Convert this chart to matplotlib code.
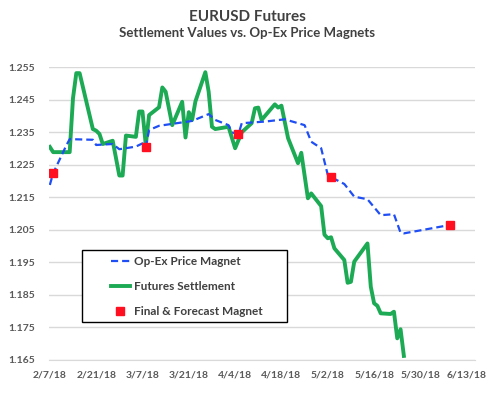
import matplotlib
matplotlib.use('Agg')
import matplotlib.pyplot as plt
from matplotlib.lines import Line2D
from matplotlib.patches import Rectangle
import pandas as pd

# futures settlement
settle_dates = ['2018-02-07', '2018-02-08', '2018-02-13', '2018-02-14', '2018-02-15', '2018-02-16',
                '2018-02-20', '2018-02-21', '2018-02-22', '2018-02-23', '2018-02-26', '2018-02-28',
                '2018-03-01', '2018-03-02', '2018-03-05', '2018-03-06', '2018-03-07', '2018-03-08',
                '2018-03-09', '2018-03-12', '2018-03-13', '2018-03-14', '2018-03-16', '2018-03-19',
                '2018-03-20', '2018-03-21', '2018-03-22', '2018-03-23', '2018-03-26', '2018-03-27',
                '2018-03-28', '2018-03-29', '2018-04-02', '2018-04-03', '2018-04-04', '2018-04-06',
                '2018-04-09', '2018-04-10', '2018-04-11', '2018-04-12', '2018-04-16', '2018-04-17',
                '2018-04-18', '2018-04-20', '2018-04-23', '2018-04-24', '2018-04-26', '2018-04-27',
                '2018-04-30', '2018-05-01', '2018-05-02', '2018-05-03', '2018-05-04', '2018-05-07',
                '2018-05-08', '2018-05-09', '2018-05-10', '2018-05-14', '2018-05-15', '2018-05-16',
                '2018-05-17', '2018-05-18', '2018-05-21', '2018-05-22', '2018-05-23', '2018-05-24',
                '2018-05-25']
settle_vals = [1.2305, 1.2289, 1.2289, 1.2455, 1.2532, 1.2532,
               1.2360, 1.2355, 1.2345, 1.2314, 1.2324, 1.2217,
               1.2217, 1.2340, 1.2336, 1.2414, 1.2414, 1.2311,
               1.2403, 1.2427, 1.2488, 1.2475, 1.2372, 1.2444,
               1.2334, 1.2412, 1.2388, 1.2445, 1.2535, 1.2475,
               1.2367, 1.2360, 1.2367, 1.2334, 1.2301, 1.2350,
               1.2378, 1.2424, 1.2426, 1.2388, 1.2436, 1.2426,
               1.2432, 1.2332, 1.2255, 1.2287, 1.2147, 1.2162,
               1.2123, 1.2035, 1.2024, 1.2027, 1.1993, 1.1957,
               1.1887, 1.1890, 1.1952, 1.2008, 1.1875, 1.1824,
               1.1816, 1.1793, 1.1791, 1.1798, 1.1716, 1.1744,
               1.1662]

# op-ex price magnet
magnet_dates = ['2018-02-07', '2018-02-08', '2018-02-12', '2018-02-13', '2018-02-20', '2018-02-21',
                '2018-02-26', '2018-02-28', '2018-03-05', '2018-03-07', '2018-03-08', '2018-03-09',
                '2018-03-12', '2018-03-22', '2018-03-27', '2018-03-29', '2018-04-02', '2018-04-03',
                '2018-04-05', '2018-04-06', '2018-04-13', '2018-04-19', '2018-04-25', '2018-04-27',
                '2018-04-30', '2018-05-02', '2018-05-03', '2018-05-07', '2018-05-10', '2018-05-14',
                '2018-05-18', '2018-05-22', '2018-05-24', '2018-05-25', '2018-06-08']
magnet_vals = [1.2188, 1.2224, 1.2310, 1.2329, 1.2327, 1.2311,
               1.2314, 1.2298, 1.2306, 1.2316, 1.2304, 1.2357,
               1.2370, 1.2385, 1.2406, 1.2388, 1.2372, 1.2350,
               1.2344, 1.2378, 1.2383, 1.2390, 1.2372, 1.2321,
               1.2301, 1.2219, 1.2212, 1.2191, 1.2152, 1.2144,
               1.2095, 1.2098, 1.2041, 1.2039, 1.2065]

# final & forecast magnets
final_dates = ['2018-02-08', '2018-03-08', '2018-04-05', '2018-05-03', '2018-06-08']
final_vals = [1.2224, 1.2304, 1.2344, 1.2212, 1.2065]

tick_dates = ['2018-02-07', '2018-02-21', '2018-03-07', '2018-03-21', '2018-04-04',
              '2018-04-18', '2018-05-02', '2018-05-16', '2018-05-30', '2018-06-13']
tick_labels = ['2/7/18', '2/21/18', '3/7/18', '3/21/18', '4/4/18',
               '4/18/18', '5/2/18', '5/16/18', '5/30/18', '6/13/18']
y_ticks = [1.165, 1.175, 1.185, 1.195, 1.205, 1.215, 1.225, 1.235, 1.245, 1.255]

plt.rcParams['font.family'] = ['Lato', 'DejaVu Sans']

blue = '#1F4EF5'
green = '#1DAA55'
red = '#FF0F1F'
dash = (0, (3.2, 1.8))

fig = plt.figure(figsize=(4.93, 3.95), dpi=100)
ax = fig.add_axes([0.0994, 0.0891, 0.8641, 0.7405])

ax.plot(pd.to_datetime(magnet_dates), magnet_vals, color=blue, linewidth=1.6,
        linestyle=dash, zorder=3)
ax.plot(pd.to_datetime(settle_dates), settle_vals, color=green, linewidth=2.8,
        zorder=2)
ax.plot(pd.to_datetime(final_dates), final_vals, linestyle='none', marker='s',
        markersize=6, color=red, zorder=4)

ax.set_ylim(1.165, 1.255)
ax.set_xlim(pd.Timestamp('2018-02-07') - pd.Timedelta(hours=6), pd.Timestamp('2018-06-15 12:00'))
ax.set_yticks(y_ticks)
ax.set_yticklabels(['%.3f' % v for v in y_ticks])
ax.set_xticks(pd.to_datetime(tick_dates))
ax.set_xticklabels(tick_labels)

ax.grid(True, axis='y', color='#D9D9D9', linewidth=1)
ax.set_axisbelow(True)
for s in ['top', 'right', 'left']:
    ax.spines[s].set_visible(False)
ax.spines['bottom'].set_color('#D9D9D9')
ax.tick_params(axis='both', length=0, labelsize=7.5, labelcolor='#595959')
ax.tick_params(axis='y', pad=10)
ax.tick_params(axis='x', pad=8)
for t in ax.get_xticklabels() + ax.get_yticklabels():
    t.set_fontweight('bold')

fig.text(0.502, 0.958, 'EURUSD Futures', ha='center', va='center', fontsize=11,
         fontweight='bold', color='#404040')
fig.text(0.502, 0.917, 'Settlement Values vs. Op-Ex Price Magnets', ha='center', va='center',
         fontsize=9.5, fontweight='bold', color='#404040')

# legend box drawn by hand so the padding matches
fig.patches.append(Rectangle((82 / 493, 1 - 322 / 395), 205 / 493, 72 / 395,
                             transform=fig.transFigure, facecolor='white',
                             edgecolor='black', linewidth=1.0, zorder=5))

handles = [
    Line2D([], [], color=blue, linewidth=1.6, linestyle=dash),
    Line2D([], [], color=green, linewidth=2.8),
    Line2D([], [], linestyle='none', marker='s', markersize=6, color=red),
]
leg = fig.legend(handles, ['Op-Ex Price Magnet', 'Futures Settlement', 'Final & Forecast Magnet'],
                 loc='upper left', bbox_to_anchor=(106 / 493, 1 - 251 / 395), borderaxespad=0,
                 frameon=False, handlelength=1.6, handletextpad=0.35, labelspacing=1.2,
                 borderpad=0.4, prop={'size': 8.5, 'weight': 'bold'})
leg.set_zorder(6)
for t in leg.get_texts():
    t.set_color('#404040')

fig.savefig('out.png', dpi=100)
